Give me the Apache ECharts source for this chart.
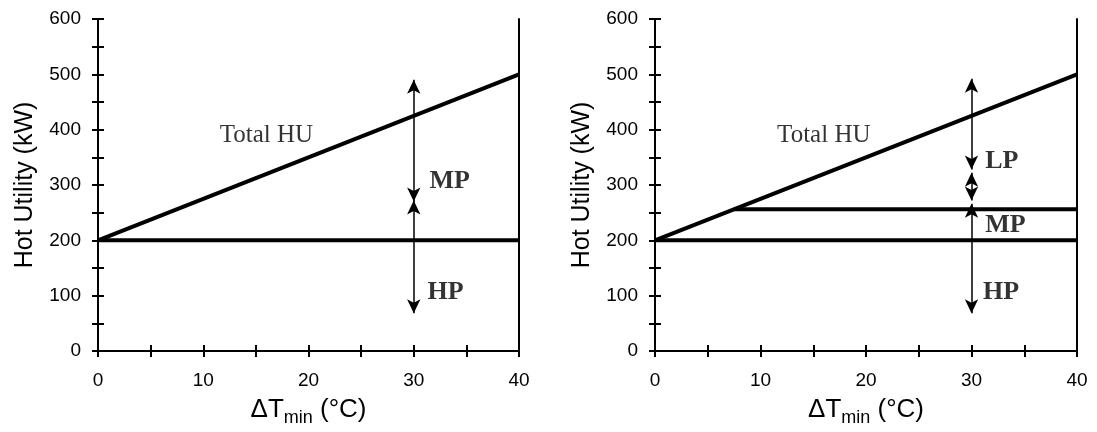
<!DOCTYPE html>
<html>
<head>
<meta charset="utf-8">
<script src="https://cdn.jsdelivr.net/npm/echarts@6/dist/echarts.min.js"></script>
<style>
  html, body { margin: 0; padding: 0; background: #fff; }
  #chart { width: 1097px; height: 432px; }
</style>
</head>
<body>
<div id="chart"></div>
<script>
// data
const xTicks = [0, 10, 20, 30, 40];
const yTicks = [0, 100, 200, 300, 400, 500, 600];
const totalHU = [[0, 200], [40, 500]];
const hpLine = [[0, 200], [40, 200]];
const mpLine = [[7.5, 256], [40, 256]];
// arrows: [x, yFrom, yTo]
const leftArrows = [[30, 270, 490], [30, 272, 68]];
const rightArrows = [[30, 328, 492], [30, 322, 272], [30, 266, 68]];
// text labels: [x, y, text]
const leftLabels = [[31.5, 307, 'MP'], [31.3, 107, 'HP']];
const rightLabels = [[31.3, 343, 'LP'], [31.3, 227, 'MP'], [31.1, 107, 'HP']];
const totalLabel = [16, 389, 'Total HU'];

const sans = '"Liberation Sans", Arial, sans-serif';
const serif = '"Liberation Serif", "Times New Roman", serif';
const black = '#000';

function xAxes(g) {
  const base = {
    type: 'value', gridIndex: g, min: 0, max: 40, interval: 5,
    position: 'bottom',
    splitLine: { show: false },
    axisLine: { onZero: false, lineStyle: { color: black, width: 2 } },
    axisTick: { length: 6, lineStyle: { color: black, width: 2 } },
  };
  return [
    Object.assign({}, base, {
      name: '{a|ΔT}{s|min}{a| (°C)}',
      nameLocation: 'middle',
      nameGap: 44,
      nameTextStyle: {
        rich: {
          a: { fontFamily: sans, fontSize: 26, color: black, lineHeight: 28, verticalAlign: 'bottom' },
          s: { fontFamily: sans, fontSize: 18, color: black, lineHeight: 20, verticalAlign: 'bottom', padding: [0, 0, -4, 0] },
        },
      },
      axisLabel: {
        margin: 20, fontFamily: sans, fontSize: 19, color: black,
        formatter: v => (xTicks.includes(v) ? String(v) : ''),
      },
    }),
    // second copy only for the ticks on the inner side
    Object.assign({}, base, {
      axisLabel: { show: false },
      axisTick: { inside: true, length: 6, lineStyle: { color: black, width: 2 } },
    }),
  ];
}

function yAxes(g) {
  const base = {
    type: 'value', gridIndex: g, min: 0, max: 600, interval: 50,
    position: 'left',
    splitLine: { show: false },
    axisLine: { show: true, onZero: false, lineStyle: { color: black, width: 2 } },
    axisTick: { length: 6, lineStyle: { color: black, width: 2 } },
  };
  return [
    Object.assign({}, base, {
      name: 'Hot Utility (kW)',
      nameLocation: 'middle',
      nameGap: 60,
      nameTextStyle: { fontFamily: sans, fontSize: 25, color: black },
      axisLabel: {
        margin: 17, fontFamily: sans, fontSize: 19, color: black,
        formatter: v => (yTicks.includes(v) ? String(v) : ''),
      },
    }),
    Object.assign({}, base, {
      axisLabel: { show: false },
      axisTick: { inside: true, length: 6, lineStyle: { color: black, width: 2 } },
    }),
    // right frame line at x = 40
    Object.assign({}, base, {
      position: 'right',
      axisLabel: { show: false },
      axisTick: { show: false },
    }),
  ];
}

function lineSeries(data, xi, yi) {
  return {
    type: 'line', xAxisIndex: xi, yAxisIndex: yi, data: data,
    symbol: 'none', silent: true, animation: false,
    lineStyle: { color: black, width: 4 },
  };
}

function arrowSeries(arrows, xi, yi) {
  return {
    type: 'line', xAxisIndex: xi, yAxisIndex: yi, data: [],
    silent: true, animation: false,
    markLine: {
      silent: true, animation: false,
      symbol: ['arrow', 'arrow'], symbolSize: [10, 14],
      label: { show: false },
      lineStyle: { color: black, width: 1.5, type: 'solid' },
      data: arrows.map(a => [{ coord: [a[0], a[1]] }, { coord: [a[0], a[2]] }]),
    },
  };
}

function textSeries(labels, xi, yi, opts) {
  return {
    type: 'scatter', xAxisIndex: xi, yAxisIndex: yi, data: labels,
    symbolSize: 0, silent: true, animation: false,
    label: Object.assign({
      show: true, position: 'right', distance: 0,
      formatter: p => p.value[2],
      color: black,
    }, opts),
  };
}

const boldText = { fontFamily: serif, fontSize: 26, fontWeight: 'bold' };
const plainText = { fontFamily: serif, fontSize: 25, position: 'inside', align: 'center' };

const chart = echarts.init(document.getElementById('chart'));
chart.setOption({
  backgroundColor: '#fff',
  animation: false,
  grid: [
    { left: 98, top: 19, width: 421, height: 337 },
    { left: 655, top: 19, width: 422, height: 337 },
  ],
  xAxis: xAxes(0).concat(xAxes(1)),
  yAxis: yAxes(0).concat(yAxes(1)),
  series: [
    lineSeries(totalHU, 0, 0),
    lineSeries(hpLine, 0, 0),
    arrowSeries(leftArrows, 0, 0),
    textSeries(leftLabels, 0, 0, boldText),
    textSeries([totalLabel], 0, 0, plainText),

    lineSeries(totalHU, 2, 3),
    lineSeries(hpLine, 2, 3),
    lineSeries(mpLine, 2, 3),
    arrowSeries(rightArrows, 2, 3),
    textSeries(rightLabels, 2, 3, boldText),
    textSeries([totalLabel], 2, 3, plainText),
  ],
});
</script>
</body>
</html>
